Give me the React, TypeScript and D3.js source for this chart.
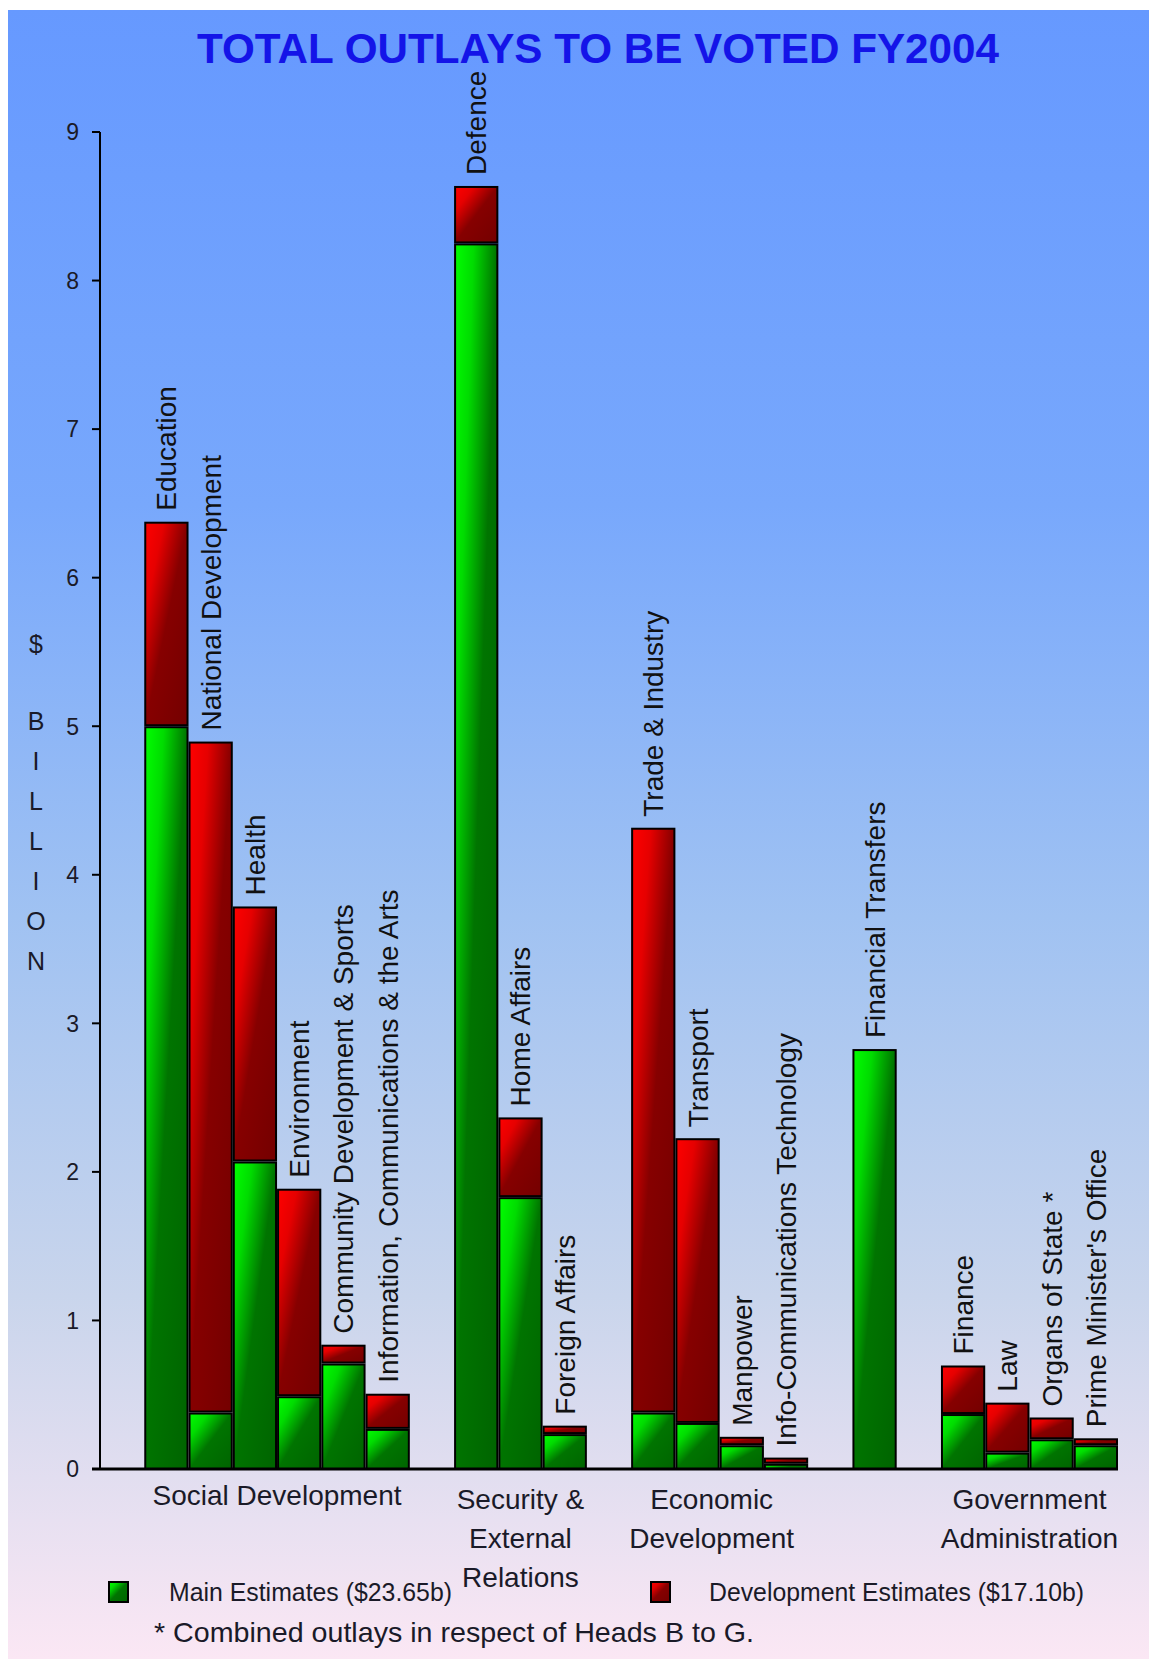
import React from "react";
import * as d3 from "d3";

const title = "TOTAL OUTLAYS TO BE VOTED FY2004";
const ministries = [
  "Education",
  "National Development",
  "Health",
  "Environment",
  "Community Development & Sports",
  "Information, Communications & the Arts",
  "Defence",
  "Home Affairs",
  "Foreign Affairs",
  "Trade & Industry",
  "Transport",
  "Manpower",
  "Info-Communications Technology",
  "Financial Transfers",
  "Finance",
  "Law",
  "Organs of State *",
  "Prime Minister's Office",
];
const ministryGroup = [0, 0, 0, 0, 0, 0, 1, 1, 1, 2, 2, 2, 2, 3, 4, 4, 4, 4];
const mainEstimates = [5.0, 0.38, 2.07, 0.49, 0.71, 0.27, 8.25, 1.83, 0.235, 0.38, 0.31, 0.16, 0.035, 2.82, 0.37, 0.11, 0.2, 0.16];
const devEstimates = [1.37, 4.51, 1.71, 1.39, 0.12, 0.23, 0.38, 0.53, 0.05, 3.93, 1.91, 0.05, 0.035, 0, 0.32, 0.33, 0.14, 0.04];
const groupLabels = [
  ["Social Development"],
  ["Security &", "External", "Relations"],
  ["Economic", "Development"],
  [],
  ["Government", "Administration"],
];
const yTicks = [0, 1, 2, 3, 4, 5, 6, 7, 8, 9];
const yAxisLetters = ["$", "B", "I", "L", "L", "I", "O", "N"];
const legendItems = ["Main Estimates  ($23.65b)", "Development Estimates  ($17.10b)"];
const footnote = "*  Combined outlays in respect of Heads B to G.";

const W = 1149;
const H = 1659;
const FONT = "'Liberation Sans', Arial, Helvetica, sans-serif";

// build slot list: leading pad, ministries, gaps between groups
const slots: string[] = ["pad"];
ministries.forEach((m, i) => {
  if (i > 0 && ministryGroup[i] !== ministryGroup[i - 1]) slots.push("gap" + i);
  slots.push(m);
});

export default function App() {
  const x = d3.scaleBand<string>().domain(slots).range([100, 1118]).padding(0);
  const y = d3.scaleLinear().domain([0, 9]).range([1469, 132]);
  const bw = x.bandwidth();

  const groupIdx = Array.from(new Set(ministryGroup));
  const groupCenters = groupIdx.map((g) => {
    const items = ministries.filter((_, i) => ministryGroup[i] === g);
    const x0 = x(items[0])!;
    const x1 = x(items[items.length - 1])! + bw;
    return (x0 + x1) / 2;
  });

  return (
    <svg width={W} height={H} style={{ position: "fixed", left: 0, top: 0 }} fontFamily={FONT}>
      <defs>
        <linearGradient id="bg" x1="0" y1="0" x2="0" y2="1">
          <stop offset="0" stopColor="#6699ff" />
          <stop offset="0.3" stopColor="#78a8fc" />
          <stop offset="0.55" stopColor="#a0c2f2" />
          <stop offset="0.78" stopColor="#c9d5ec" />
          <stop offset="1" stopColor="#fbe7f4" />
        </linearGradient>
        <linearGradient id="gGreen" x1="0" y1="0" x2="1" y2="1">
          <stop offset="0" stopColor="#00ff00" />
          <stop offset="0.22" stopColor="#00dc00" />
          <stop offset="0.5" stopColor="#007400" />
          <stop offset="1" stopColor="#006400" />
        </linearGradient>
        <linearGradient id="gRed" x1="0" y1="0" x2="1" y2="1">
          <stop offset="0" stopColor="#ff0000" />
          <stop offset="0.22" stopColor="#e60000" />
          <stop offset="0.5" stopColor="#860000" />
          <stop offset="1" stopColor="#740000" />
        </linearGradient>
      </defs>
      <rect x={0} y={0} width={W} height={H} fill="#ffffff" />
      <rect x={8} y={10} width={W - 8} height={H - 10} fill="url(#bg)" />

      <text
        x={598}
        y={63}
        textAnchor="middle"
        fontSize={42}
        fontWeight="bold"
        fill="#1414e8"
        textLength={802}
        lengthAdjust="spacingAndGlyphs"
      >
        {title}
      </text>

      {/* y axis */}
      <line x1={100} x2={100} y1={y(9)} y2={y(0)} stroke="#000" strokeWidth={2} />
      {yTicks.map((t) => (
        <g key={t}>
          <line x1={92} x2={100} y1={y(t)} y2={y(t)} stroke="#000" strokeWidth={2} />
          <text x={79} y={y(t)} dy="0.36em" textAnchor="end" fontSize={23} fill="#1a1a28">
            {t}
          </text>
        </g>
      ))}
      {yAxisLetters.map((ch, i) => (
        <text
          key={i}
          x={36}
          y={i === 0 ? 653 : 730 + (i - 1) * 40}
          textAnchor="middle"
          fontSize={25}
          fill="#1a1a28"
        >
          {ch}
        </text>
      ))}

      {/* bars */}
      {ministries.map((m, i) => {
        const x0 = x(m)! + 1;
        const w = bw - 2;
        const mainTop = y(mainEstimates[i]);
        const total = mainEstimates[i] + devEstimates[i];
        const totTop = y(total);
        const hasDev = devEstimates[i] > 0;
        return (
          <g key={m}>
            <rect
              x={x0}
              y={hasDev ? mainTop + 1 : mainTop}
              width={w}
              height={Math.max(0.5, y(0) - mainTop - (hasDev ? 1 : 0))}
              fill="url(#gGreen)"
              stroke="#000"
              strokeWidth={2}
            />
            {hasDev && (
              <rect
                x={x0}
                y={totTop}
                width={w}
                height={Math.max(0.5, mainTop - 1 - totTop)}
                fill="url(#gRed)"
                stroke="#000"
                strokeWidth={2}
              />
            )}
            <text
              transform={`translate(${x(m)! + bw / 2 + 10},${totTop - 12}) rotate(-90)`}
              fontSize={28}
              fill="#111"
            >
              {m}
            </text>
          </g>
        );
      })}

      {/* x baseline */}
      <line x1={92} x2={1118} y1={y(0)} y2={y(0)} stroke="#000" strokeWidth={3} />

      {/* group labels */}
      {groupLabels.map((lines, g) =>
        lines.map((ln, k) => (
          <text
            key={g + "-" + k}
            x={groupCenters[g] - (g === 2 ? 8 : 0)}
            y={(lines.length === 1 ? 1505 : 1509) + k * 39}
            textAnchor="middle"
            fontSize={28}
            fill="#1a1a28"
          >
            {ln}
          </text>
        ))
      )}

      {/* legend */}
      <rect x={109} y={1582} width={19} height={20} fill="url(#gGreen)" stroke="#000" strokeWidth={2} />
      <text x={169} y={1601} fontSize={25} fill="#1a1a28" textLength={283} lengthAdjust="spacingAndGlyphs">
        {legendItems[0]}
      </text>
      <rect x={651} y={1582} width={19} height={20} fill="url(#gRed)" stroke="#000" strokeWidth={2} />
      <text x={709} y={1601} fontSize={25} fill="#1a1a28" textLength={375} lengthAdjust="spacingAndGlyphs">
        {legendItems[1]}
      </text>

      <text x={154} y={1642} fontSize={28} fill="#1a1a28" textLength={600} lengthAdjust="spacingAndGlyphs">
        {footnote}
      </text>
    </svg>
  );
}
